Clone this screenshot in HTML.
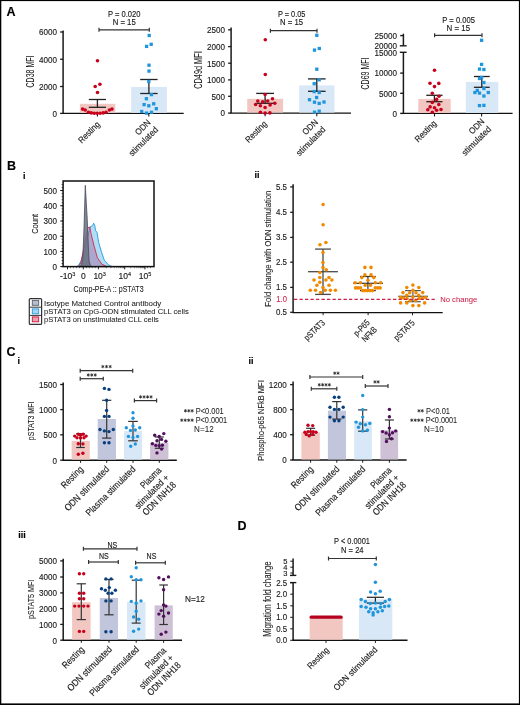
<!DOCTYPE html>
<html><head><meta charset="utf-8"><style>
html,body{margin:0;padding:0;background:#fff;}
body{width:520px;height:705px;overflow:hidden;}
svg{display:block;font-family:"Liberation Sans", sans-serif;will-change:transform;} text{stroke-width:0.14px;}
</style></head><body>
<svg width="520" height="705" viewBox="0 0 520 705">
<rect x="0" y="0" width="520" height="705" fill="#fff"/>
<text x="6.5" y="16" font-size="12.5" fill="#000" stroke="#000" font-weight="bold">A</text>
<text x="7" y="169.6" font-size="12.5" fill="#000" stroke="#000" font-weight="bold">B</text>
<text x="23" y="178.5" font-size="9" fill="#000" stroke="#000" font-weight="bold">i</text>
<text x="6.5" y="355.6" font-size="12.5" fill="#000" stroke="#000" font-weight="bold">C</text>
<text x="17.5" y="363.8" font-size="9" fill="#000" stroke="#000" font-weight="bold">i</text>
<text x="254.5" y="177.8" font-size="9" fill="#000" stroke="#000" font-weight="bold">ii</text>
<text x="248.5" y="363.6" font-size="9" fill="#000" stroke="#000" font-weight="bold">ii</text>
<text x="18.3" y="537.5" font-size="9" fill="#000" stroke="#000" font-weight="bold">iii</text>
<text x="237.5" y="529.7" font-size="12.5" fill="#000" stroke="#000" font-weight="bold">D</text>
<text transform="translate(33.7,71.5) rotate(-90)" x="0" y="0" font-size="10.8" fill="#1a1a1a" stroke="#1a1a1a" text-anchor="middle" textLength="32" lengthAdjust="spacingAndGlyphs" style="stroke-width:0.08px">CD38 MFI</text>
<line x1="63.1" y1="30.5" x2="63.1" y2="113.4" stroke="#1a1a1a" stroke-width="1.5" />
<line x1="60.1" y1="32" x2="63.1" y2="32" stroke="#1a1a1a" stroke-width="1.3" />
<text x="57" y="35.3" font-size="9.5" fill="#1a1a1a" stroke="#1a1a1a" text-anchor="end" textLength="18" lengthAdjust="spacingAndGlyphs">6000</text>
<line x1="60.1" y1="59.25" x2="63.1" y2="59.25" stroke="#1a1a1a" stroke-width="1.3" />
<text x="57" y="62.55" font-size="9.5" fill="#1a1a1a" stroke="#1a1a1a" text-anchor="end" textLength="18" lengthAdjust="spacingAndGlyphs">4000</text>
<line x1="60.1" y1="86.5" x2="63.1" y2="86.5" stroke="#1a1a1a" stroke-width="1.3" />
<text x="57" y="89.8" font-size="9.5" fill="#1a1a1a" stroke="#1a1a1a" text-anchor="end" textLength="18" lengthAdjust="spacingAndGlyphs">2000</text>
<line x1="60.1" y1="113.4" x2="63.1" y2="113.4" stroke="#1a1a1a" stroke-width="1.3" />
<text x="57" y="116.7" font-size="9.5" fill="#1a1a1a" stroke="#1a1a1a" text-anchor="end" textLength="4.5" lengthAdjust="spacingAndGlyphs">0</text>
<line x1="62.4" y1="113.4" x2="183.7" y2="113.4" stroke="#111" stroke-width="1.4" />
<line x1="97.4" y1="113.4" x2="97.4" y2="116.5" stroke="#1a1a1a" stroke-width="1.1" />
<line x1="148.8" y1="113.4" x2="148.8" y2="116.5" stroke="#1a1a1a" stroke-width="1.1" />
<rect x="79.9" y="103.8" width="35.4" height="9" fill="#f2c7c2"/>
<rect x="131.2" y="86.9" width="35.7" height="25.9" fill="#d8e8f7"/>
<line x1="97.4" y1="99.5" x2="97.4" y2="107.3" stroke="#222" stroke-width="1.3" />
<line x1="88.8" y1="99.5" x2="106" y2="99.5" stroke="#222" stroke-width="1.3" />
<line x1="88.8" y1="107.3" x2="106" y2="107.3" stroke="#222" stroke-width="1.3" />
<line x1="148.9" y1="79.5" x2="148.9" y2="93.5" stroke="#222" stroke-width="1.3" />
<line x1="140.2" y1="79.5" x2="157.6" y2="79.5" stroke="#222" stroke-width="1.3" />
<line x1="140.2" y1="93.5" x2="157.6" y2="93.5" stroke="#222" stroke-width="1.3" />
<circle cx="97.5" cy="60.8" r="1.8" fill="#c8001c"/>
<circle cx="95.2" cy="86.5" r="1.8" fill="#c8001c"/>
<circle cx="99.9" cy="84.3" r="1.8" fill="#c8001c"/>
<circle cx="97.5" cy="92.5" r="1.8" fill="#c8001c"/>
<circle cx="82.6" cy="109.1" r="1.8" fill="#c8001c"/>
<circle cx="85.2" cy="110" r="1.8" fill="#c8001c"/>
<circle cx="88.4" cy="112.3" r="1.8" fill="#c8001c"/>
<circle cx="91.3" cy="112.9" r="1.8" fill="#c8001c"/>
<circle cx="94.3" cy="113.2" r="1.8" fill="#c8001c"/>
<circle cx="97.2" cy="113.3" r="1.8" fill="#c8001c"/>
<circle cx="100.1" cy="113.2" r="1.8" fill="#c8001c"/>
<circle cx="103.1" cy="112.9" r="1.8" fill="#c8001c"/>
<circle cx="106" cy="112.3" r="1.8" fill="#c8001c"/>
<circle cx="109.4" cy="110" r="1.8" fill="#c8001c"/>
<circle cx="112" cy="109.1" r="1.8" fill="#c8001c"/>
<rect x="147.55" y="33.85" width="3.3" height="3.3" fill="#1f95dc"/>
<rect x="144.95" y="44.75" width="3.3" height="3.3" fill="#1f95dc"/>
<rect x="149.55" y="42.65" width="3.3" height="3.3" fill="#1f95dc"/>
<rect x="147.35" y="63.55" width="3.3" height="3.3" fill="#1f95dc"/>
<rect x="147.35" y="69.45" width="3.3" height="3.3" fill="#1f95dc"/>
<rect x="147.15" y="79.85" width="3.3" height="3.3" fill="#1f95dc"/>
<rect x="149.75" y="92.95" width="3.3" height="3.3" fill="#1f95dc"/>
<rect x="144.75" y="97.05" width="3.3" height="3.3" fill="#1f95dc"/>
<rect x="142.45" y="102.95" width="3.3" height="3.3" fill="#1f95dc"/>
<rect x="147.15" y="104.15" width="3.3" height="3.3" fill="#1f95dc"/>
<rect x="152.05" y="102.15" width="3.3" height="3.3" fill="#1f95dc"/>
<rect x="154.65" y="107.05" width="3.3" height="3.3" fill="#1f95dc"/>
<rect x="140.05" y="109.85" width="3.3" height="3.3" fill="#1f95dc"/>
<rect x="144.85" y="111.45" width="3.3" height="3.3" fill="#1f95dc"/>
<rect x="149.85" y="110.65" width="3.3" height="3.3" fill="#1f95dc"/>
<text x="124.2" y="16.8" font-size="9" fill="#1a1a1a" stroke="#1a1a1a" text-anchor="middle" textLength="32.5" lengthAdjust="spacingAndGlyphs">P = 0.020</text>
<text x="124.2" y="24.8" font-size="9" fill="#1a1a1a" stroke="#1a1a1a" text-anchor="middle" textLength="23" lengthAdjust="spacingAndGlyphs">N = 15</text>
<line x1="99" y1="29.8" x2="149.3" y2="29.8" stroke="#333" stroke-width="1.2" />
<line x1="99" y1="27.8" x2="99" y2="31.8" stroke="#333" stroke-width="1.2" />
<line x1="149.3" y1="27.8" x2="149.3" y2="31.8" stroke="#333" stroke-width="1.2" />
<text transform="translate(100.5,125) rotate(-45)" x="0" y="0" font-size="8.8" fill="#1a1a1a" stroke="#1a1a1a" text-anchor="end" textLength="26.5" lengthAdjust="spacingAndGlyphs">Resting</text>
<text transform="translate(151.2,123) rotate(-45)" x="0" y="0" font-size="8.8" fill="#1a1a1a" stroke="#1a1a1a" text-anchor="end" textLength="18" lengthAdjust="spacingAndGlyphs">ODN</text>
<text transform="translate(158.7,130.3) rotate(-45)" x="0" y="0" font-size="8.8" fill="#1a1a1a" stroke="#1a1a1a" text-anchor="end" textLength="37.5" lengthAdjust="spacingAndGlyphs">stimulated</text>
<text transform="translate(202.3,70) rotate(-90)" x="0" y="0" font-size="10.8" fill="#1a1a1a" stroke="#1a1a1a" text-anchor="middle" textLength="37.5" lengthAdjust="spacingAndGlyphs" style="stroke-width:0.08px">CD49d MFI</text>
<line x1="231.1" y1="27.5" x2="231.1" y2="113.1" stroke="#1a1a1a" stroke-width="1.5" />
<line x1="228.1" y1="29.8" x2="231.1" y2="29.8" stroke="#1a1a1a" stroke-width="1.3" />
<text x="224.9" y="33.1" font-size="9.5" fill="#1a1a1a" stroke="#1a1a1a" text-anchor="end" textLength="18" lengthAdjust="spacingAndGlyphs">2500</text>
<line x1="228.1" y1="46.6" x2="231.1" y2="46.6" stroke="#1a1a1a" stroke-width="1.3" />
<text x="224.9" y="49.9" font-size="9.5" fill="#1a1a1a" stroke="#1a1a1a" text-anchor="end" textLength="18" lengthAdjust="spacingAndGlyphs">2000</text>
<line x1="228.1" y1="63.2" x2="231.1" y2="63.2" stroke="#1a1a1a" stroke-width="1.3" />
<text x="224.9" y="66.5" font-size="9.5" fill="#1a1a1a" stroke="#1a1a1a" text-anchor="end" textLength="18" lengthAdjust="spacingAndGlyphs">1500</text>
<line x1="228.1" y1="79.9" x2="231.1" y2="79.9" stroke="#1a1a1a" stroke-width="1.3" />
<text x="224.9" y="83.2" font-size="9.5" fill="#1a1a1a" stroke="#1a1a1a" text-anchor="end" textLength="18" lengthAdjust="spacingAndGlyphs">1000</text>
<line x1="228.1" y1="96.3" x2="231.1" y2="96.3" stroke="#1a1a1a" stroke-width="1.3" />
<text x="224.9" y="99.6" font-size="9.5" fill="#1a1a1a" stroke="#1a1a1a" text-anchor="end" textLength="13.5" lengthAdjust="spacingAndGlyphs">500</text>
<line x1="228.1" y1="113.1" x2="231.1" y2="113.1" stroke="#1a1a1a" stroke-width="1.3" />
<text x="224.9" y="116.4" font-size="9.5" fill="#1a1a1a" stroke="#1a1a1a" text-anchor="end" textLength="4.5" lengthAdjust="spacingAndGlyphs">0</text>
<line x1="230.4" y1="113.1" x2="351" y2="113.1" stroke="#111" stroke-width="1.4" />
<line x1="265.1" y1="113.1" x2="265.1" y2="116.2" stroke="#1a1a1a" stroke-width="1.1" />
<line x1="316.8" y1="113.1" x2="316.8" y2="116.2" stroke="#1a1a1a" stroke-width="1.1" />
<rect x="247.2" y="98.8" width="35.9" height="13.8" fill="#f2c7c2"/>
<rect x="299.2" y="85.4" width="35.3" height="27.2" fill="#d8e8f7"/>
<line x1="265.1" y1="93.4" x2="265.1" y2="103.3" stroke="#222" stroke-width="1.3" />
<line x1="256.2" y1="93.4" x2="274" y2="93.4" stroke="#222" stroke-width="1.3" />
<line x1="256.2" y1="103.3" x2="274" y2="103.3" stroke="#222" stroke-width="1.3" />
<line x1="316.8" y1="78.9" x2="316.8" y2="91.3" stroke="#222" stroke-width="1.3" />
<line x1="308" y1="78.9" x2="325.6" y2="78.9" stroke="#222" stroke-width="1.3" />
<line x1="308" y1="91.3" x2="325.6" y2="91.3" stroke="#222" stroke-width="1.3" />
<circle cx="265.3" cy="39.7" r="1.8" fill="#c8001c"/>
<circle cx="265.3" cy="74.5" r="1.8" fill="#c8001c"/>
<circle cx="265.1" cy="94.5" r="1.8" fill="#c8001c"/>
<circle cx="257.8" cy="101" r="1.8" fill="#c8001c"/>
<circle cx="262.7" cy="101.9" r="1.8" fill="#c8001c"/>
<circle cx="267.7" cy="101" r="1.8" fill="#c8001c"/>
<circle cx="272.5" cy="98.8" r="1.8" fill="#c8001c"/>
<circle cx="255.6" cy="104.5" r="1.8" fill="#c8001c"/>
<circle cx="260.4" cy="105.8" r="1.8" fill="#c8001c"/>
<circle cx="270.1" cy="104.9" r="1.8" fill="#c8001c"/>
<circle cx="274.8" cy="103.3" r="1.8" fill="#c8001c"/>
<circle cx="265.1" cy="107.5" r="1.8" fill="#c8001c"/>
<circle cx="260.4" cy="112.2" r="1.8" fill="#c8001c"/>
<circle cx="265.1" cy="113.1" r="1.8" fill="#c8001c"/>
<circle cx="269.9" cy="112.9" r="1.8" fill="#c8001c"/>
<rect x="315.15" y="33.65" width="3.3" height="3.3" fill="#1f95dc"/>
<rect x="312.85" y="48.45" width="3.3" height="3.3" fill="#1f95dc"/>
<rect x="317.65" y="46.85" width="3.3" height="3.3" fill="#1f95dc"/>
<rect x="315.15" y="67.55" width="3.3" height="3.3" fill="#1f95dc"/>
<rect x="317.55" y="78.15" width="3.3" height="3.3" fill="#1f95dc"/>
<rect x="312.55" y="82.05" width="3.3" height="3.3" fill="#1f95dc"/>
<rect x="312.55" y="89.95" width="3.3" height="3.3" fill="#1f95dc"/>
<rect x="317.55" y="90.85" width="3.3" height="3.3" fill="#1f95dc"/>
<rect x="314.95" y="95.85" width="3.3" height="3.3" fill="#1f95dc"/>
<rect x="307.85" y="98.05" width="3.3" height="3.3" fill="#1f95dc"/>
<rect x="312.85" y="100.55" width="3.3" height="3.3" fill="#1f95dc"/>
<rect x="317.55" y="101.75" width="3.3" height="3.3" fill="#1f95dc"/>
<rect x="322.35" y="100.35" width="3.3" height="3.3" fill="#1f95dc"/>
<rect x="312.85" y="110.55" width="3.3" height="3.3" fill="#1f95dc"/>
<rect x="317.55" y="109.55" width="3.3" height="3.3" fill="#1f95dc"/>
<text x="291.7" y="17.1" font-size="9" fill="#1a1a1a" stroke="#1a1a1a" text-anchor="middle" textLength="27.5" lengthAdjust="spacingAndGlyphs">P = 0.05</text>
<text x="291.5" y="25" font-size="9" fill="#1a1a1a" stroke="#1a1a1a" text-anchor="middle" textLength="23" lengthAdjust="spacingAndGlyphs">N = 15</text>
<line x1="270.4" y1="30.7" x2="317" y2="30.7" stroke="#333" stroke-width="1.2" />
<line x1="270.4" y1="28.7" x2="270.4" y2="32.7" stroke="#333" stroke-width="1.2" />
<line x1="317" y1="28.7" x2="317" y2="32.7" stroke="#333" stroke-width="1.2" />
<text transform="translate(267.5,124.5) rotate(-45)" x="0" y="0" font-size="8.8" fill="#1a1a1a" stroke="#1a1a1a" text-anchor="end" textLength="26.5" lengthAdjust="spacingAndGlyphs">Resting</text>
<text transform="translate(318.6,122.8) rotate(-45)" x="0" y="0" font-size="8.8" fill="#1a1a1a" stroke="#1a1a1a" text-anchor="end" textLength="18" lengthAdjust="spacingAndGlyphs">ODN</text>
<text transform="translate(326.1,130.1) rotate(-45)" x="0" y="0" font-size="8.8" fill="#1a1a1a" stroke="#1a1a1a" text-anchor="end" textLength="37.5" lengthAdjust="spacingAndGlyphs">stimulated</text>
<text transform="translate(369,73.5) rotate(-90)" x="0" y="0" font-size="10.8" fill="#1a1a1a" stroke="#1a1a1a" text-anchor="middle" textLength="32" lengthAdjust="spacingAndGlyphs" style="stroke-width:0.08px">CD69 MFI</text>
<text x="396.9" y="38.9" font-size="9.5" fill="#1a1a1a" stroke="#1a1a1a" text-anchor="end" textLength="22.5" lengthAdjust="spacingAndGlyphs">25000</text>
<text x="396.9" y="48.8" font-size="9.5" fill="#1a1a1a" stroke="#1a1a1a" text-anchor="end" textLength="22.5" lengthAdjust="spacingAndGlyphs">20000</text>
<text x="396.9" y="55.8" font-size="9.5" fill="#1a1a1a" stroke="#1a1a1a" text-anchor="end" textLength="22.5" lengthAdjust="spacingAndGlyphs">15000</text>
<text x="396.9" y="76.4" font-size="9.5" fill="#1a1a1a" stroke="#1a1a1a" text-anchor="end" textLength="22.5" lengthAdjust="spacingAndGlyphs">10000</text>
<text x="396.9" y="96.6" font-size="9.5" fill="#1a1a1a" stroke="#1a1a1a" text-anchor="end" textLength="18" lengthAdjust="spacingAndGlyphs">5000</text>
<text x="396.9" y="116.8" font-size="9.5" fill="#1a1a1a" stroke="#1a1a1a" text-anchor="end" textLength="4.5" lengthAdjust="spacingAndGlyphs">0</text>
<line x1="403.4" y1="33.7" x2="403.4" y2="45.8" stroke="#1a1a1a" stroke-width="1.5" />
<line x1="400.2" y1="35.6" x2="403.4" y2="35.6" stroke="#1a1a1a" stroke-width="1.4" />
<line x1="399.8" y1="45.8" x2="406.6" y2="45.8" stroke="#1a1a1a" stroke-width="1.4" />
<line x1="403.4" y1="52.3" x2="403.4" y2="113.4" stroke="#1a1a1a" stroke-width="1.5" />
<line x1="399.8" y1="52.3" x2="406.6" y2="52.3" stroke="#1a1a1a" stroke-width="1.4" />
<line x1="400.2" y1="73.1" x2="403.4" y2="73.1" stroke="#1a1a1a" stroke-width="1.4" />
<line x1="400.2" y1="93.3" x2="403.4" y2="93.3" stroke="#1a1a1a" stroke-width="1.4" />
<line x1="400.2" y1="113.4" x2="403.4" y2="113.4" stroke="#1a1a1a" stroke-width="1.4" />
<line x1="402.7" y1="113.4" x2="512.6" y2="113.4" stroke="#111" stroke-width="1.4" />
<line x1="434.5" y1="113.4" x2="434.5" y2="116.5" stroke="#1a1a1a" stroke-width="1.1" />
<line x1="481.6" y1="113.4" x2="481.6" y2="116.5" stroke="#1a1a1a" stroke-width="1.1" />
<rect x="418.3" y="98.9" width="32.4" height="14" fill="#f2c7c2"/>
<rect x="465.8" y="81.9" width="32.5" height="31" fill="#d8e8f7"/>
<line x1="434.4" y1="95.3" x2="434.4" y2="101.7" stroke="#222" stroke-width="1.3" />
<line x1="426.3" y1="95.3" x2="442.5" y2="95.3" stroke="#222" stroke-width="1.3" />
<line x1="426.3" y1="101.7" x2="442.5" y2="101.7" stroke="#222" stroke-width="1.3" />
<line x1="481.8" y1="76.5" x2="481.8" y2="87.3" stroke="#222" stroke-width="1.3" />
<line x1="473.9" y1="76.5" x2="489.7" y2="76.5" stroke="#222" stroke-width="1.3" />
<line x1="473.9" y1="87.3" x2="489.7" y2="87.3" stroke="#222" stroke-width="1.3" />
<circle cx="434.5" cy="70.2" r="1.8" fill="#c8001c"/>
<circle cx="430" cy="83.2" r="1.8" fill="#c8001c"/>
<circle cx="438.8" cy="83.4" r="1.8" fill="#c8001c"/>
<circle cx="434.5" cy="86.6" r="1.8" fill="#c8001c"/>
<circle cx="432.3" cy="93.3" r="1.8" fill="#c8001c"/>
<circle cx="439" cy="96.3" r="1.8" fill="#c8001c"/>
<circle cx="436.6" cy="99.4" r="1.8" fill="#c8001c"/>
<circle cx="432.3" cy="102.4" r="1.8" fill="#c8001c"/>
<circle cx="438.8" cy="104.5" r="1.8" fill="#c8001c"/>
<circle cx="430.1" cy="106.9" r="1.8" fill="#c8001c"/>
<circle cx="434.5" cy="107.8" r="1.8" fill="#c8001c"/>
<circle cx="427.8" cy="109.7" r="1.8" fill="#c8001c"/>
<circle cx="436.6" cy="110.2" r="1.8" fill="#c8001c"/>
<circle cx="441" cy="109.5" r="1.8" fill="#c8001c"/>
<circle cx="432.3" cy="112.2" r="1.8" fill="#c8001c"/>
<rect x="479.95" y="38.65" width="3.3" height="3.3" fill="#1f95dc"/>
<rect x="479.95" y="62.75" width="3.3" height="3.3" fill="#1f95dc"/>
<rect x="477.85" y="67.45" width="3.3" height="3.3" fill="#1f95dc"/>
<rect x="482.25" y="67.85" width="3.3" height="3.3" fill="#1f95dc"/>
<rect x="479.95" y="75.85" width="3.3" height="3.3" fill="#1f95dc"/>
<rect x="477.85" y="76.85" width="3.3" height="3.3" fill="#1f95dc"/>
<rect x="482.25" y="80.85" width="3.3" height="3.3" fill="#1f95dc"/>
<rect x="482.25" y="86.85" width="3.3" height="3.3" fill="#1f95dc"/>
<rect x="475.65" y="88.75" width="3.3" height="3.3" fill="#1f95dc"/>
<rect x="473.25" y="90.85" width="3.3" height="3.3" fill="#1f95dc"/>
<rect x="477.85" y="91.45" width="3.3" height="3.3" fill="#1f95dc"/>
<rect x="486.65" y="90.85" width="3.3" height="3.3" fill="#1f95dc"/>
<rect x="482.25" y="94.35" width="3.3" height="3.3" fill="#1f95dc"/>
<rect x="477.85" y="103.95" width="3.3" height="3.3" fill="#1f95dc"/>
<rect x="482.25" y="103.75" width="3.3" height="3.3" fill="#1f95dc"/>
<text x="458.6" y="23" font-size="9" fill="#1a1a1a" stroke="#1a1a1a" text-anchor="middle" textLength="32.5" lengthAdjust="spacingAndGlyphs">P = 0.005</text>
<text x="458.3" y="30.7" font-size="9" fill="#1a1a1a" stroke="#1a1a1a" text-anchor="middle" textLength="23.5" lengthAdjust="spacingAndGlyphs">N = 15</text>
<line x1="434.6" y1="35.3" x2="482" y2="35.3" stroke="#333" stroke-width="1.2" />
<line x1="434.6" y1="33.3" x2="434.6" y2="37.3" stroke="#333" stroke-width="1.2" />
<line x1="482" y1="33.3" x2="482" y2="37.3" stroke="#333" stroke-width="1.2" />
<text transform="translate(437,124) rotate(-45)" x="0" y="0" font-size="8.8" fill="#1a1a1a" stroke="#1a1a1a" text-anchor="end" textLength="26.5" lengthAdjust="spacingAndGlyphs">Resting</text>
<text transform="translate(485,122) rotate(-45)" x="0" y="0" font-size="8.8" fill="#1a1a1a" stroke="#1a1a1a" text-anchor="end" textLength="18" lengthAdjust="spacingAndGlyphs">ODN</text>
<text transform="translate(491.7,129.7) rotate(-45)" x="0" y="0" font-size="8.8" fill="#1a1a1a" stroke="#1a1a1a" text-anchor="end" textLength="37.5" lengthAdjust="spacingAndGlyphs">stimulated</text>
<text transform="translate(38,223.8) rotate(-90)" x="0" y="0" font-size="9.6" fill="#1a1a1a" stroke="#1a1a1a" text-anchor="middle" textLength="20" lengthAdjust="spacingAndGlyphs" style="stroke-width:0.08px">Count</text>
<line x1="60.2" y1="190.5" x2="63.1" y2="190.5" stroke="#1a1a1a" stroke-width="1" />
<text x="57" y="193.8" font-size="9.5" fill="#1a1a1a" stroke="#1a1a1a" text-anchor="end" textLength="13.5" lengthAdjust="spacingAndGlyphs">500</text>
<line x1="60.2" y1="205.7" x2="63.1" y2="205.7" stroke="#1a1a1a" stroke-width="1" />
<text x="57" y="209" font-size="9.5" fill="#1a1a1a" stroke="#1a1a1a" text-anchor="end" textLength="13.5" lengthAdjust="spacingAndGlyphs">400</text>
<line x1="60.2" y1="221" x2="63.1" y2="221" stroke="#1a1a1a" stroke-width="1" />
<text x="57" y="224.3" font-size="9.5" fill="#1a1a1a" stroke="#1a1a1a" text-anchor="end" textLength="13.5" lengthAdjust="spacingAndGlyphs">300</text>
<line x1="60.2" y1="236.2" x2="63.1" y2="236.2" stroke="#1a1a1a" stroke-width="1" />
<text x="57" y="239.5" font-size="9.5" fill="#1a1a1a" stroke="#1a1a1a" text-anchor="end" textLength="13.5" lengthAdjust="spacingAndGlyphs">200</text>
<line x1="60.2" y1="251.4" x2="63.1" y2="251.4" stroke="#1a1a1a" stroke-width="1" />
<text x="57" y="254.7" font-size="9.5" fill="#1a1a1a" stroke="#1a1a1a" text-anchor="end" textLength="13.5" lengthAdjust="spacingAndGlyphs">100</text>
<line x1="60.2" y1="266.6" x2="63.1" y2="266.6" stroke="#1a1a1a" stroke-width="1" />
<text x="57" y="269.9" font-size="9.5" fill="#1a1a1a" stroke="#1a1a1a" text-anchor="end" textLength="4.5" lengthAdjust="spacingAndGlyphs">0</text>
<line x1="61.6" y1="266.6" x2="63.1" y2="266.6" stroke="#1a1a1a" stroke-width="0.7" />
<line x1="61.6" y1="263.56" x2="63.1" y2="263.56" stroke="#1a1a1a" stroke-width="0.7" />
<line x1="61.6" y1="260.52" x2="63.1" y2="260.52" stroke="#1a1a1a" stroke-width="0.7" />
<line x1="61.6" y1="257.48" x2="63.1" y2="257.48" stroke="#1a1a1a" stroke-width="0.7" />
<line x1="61.6" y1="254.44" x2="63.1" y2="254.44" stroke="#1a1a1a" stroke-width="0.7" />
<line x1="61.6" y1="251.4" x2="63.1" y2="251.4" stroke="#1a1a1a" stroke-width="0.7" />
<line x1="61.6" y1="248.36" x2="63.1" y2="248.36" stroke="#1a1a1a" stroke-width="0.7" />
<line x1="61.6" y1="245.32" x2="63.1" y2="245.32" stroke="#1a1a1a" stroke-width="0.7" />
<line x1="61.6" y1="242.28" x2="63.1" y2="242.28" stroke="#1a1a1a" stroke-width="0.7" />
<line x1="61.6" y1="239.24" x2="63.1" y2="239.24" stroke="#1a1a1a" stroke-width="0.7" />
<line x1="61.6" y1="236.2" x2="63.1" y2="236.2" stroke="#1a1a1a" stroke-width="0.7" />
<line x1="61.6" y1="233.16" x2="63.1" y2="233.16" stroke="#1a1a1a" stroke-width="0.7" />
<line x1="61.6" y1="230.12" x2="63.1" y2="230.12" stroke="#1a1a1a" stroke-width="0.7" />
<line x1="61.6" y1="227.08" x2="63.1" y2="227.08" stroke="#1a1a1a" stroke-width="0.7" />
<line x1="61.6" y1="224.04" x2="63.1" y2="224.04" stroke="#1a1a1a" stroke-width="0.7" />
<line x1="61.6" y1="221" x2="63.1" y2="221" stroke="#1a1a1a" stroke-width="0.7" />
<line x1="61.6" y1="217.96" x2="63.1" y2="217.96" stroke="#1a1a1a" stroke-width="0.7" />
<line x1="61.6" y1="214.92" x2="63.1" y2="214.92" stroke="#1a1a1a" stroke-width="0.7" />
<line x1="61.6" y1="211.88" x2="63.1" y2="211.88" stroke="#1a1a1a" stroke-width="0.7" />
<line x1="61.6" y1="208.84" x2="63.1" y2="208.84" stroke="#1a1a1a" stroke-width="0.7" />
<line x1="61.6" y1="205.8" x2="63.1" y2="205.8" stroke="#1a1a1a" stroke-width="0.7" />
<line x1="61.6" y1="202.76" x2="63.1" y2="202.76" stroke="#1a1a1a" stroke-width="0.7" />
<line x1="61.6" y1="199.72" x2="63.1" y2="199.72" stroke="#1a1a1a" stroke-width="0.7" />
<line x1="61.6" y1="196.68" x2="63.1" y2="196.68" stroke="#1a1a1a" stroke-width="0.7" />
<line x1="61.6" y1="193.64" x2="63.1" y2="193.64" stroke="#1a1a1a" stroke-width="0.7" />
<line x1="61.6" y1="190.6" x2="63.1" y2="190.6" stroke="#1a1a1a" stroke-width="0.7" />
<line x1="61.6" y1="187.56" x2="63.1" y2="187.56" stroke="#1a1a1a" stroke-width="0.7" />
<line x1="61.6" y1="184.52" x2="63.1" y2="184.52" stroke="#1a1a1a" stroke-width="0.7" />
<path d="M76.5,266.6 L78.3,265.7 L81,261 L84,251.4 L87,240 L89.1,231 L90.4,226.6 L92.7,225.7 L93.6,223.2 L94.9,225.9 L95.5,230.5 L97,232.3 L98.7,242.5 L101.3,251.4 L104.4,260.4 L108.3,264.8 L110.8,266 L112.5,266.6 Z" fill="#a9d9f4" fill-opacity="0.9" stroke="#1f9be0" stroke-width="0.9"/>
<path d="M78.5,266.6 L80.8,262.9 L83,252 L86,236 L87.9,227.8 L89.8,227 L91,233.6 L94.2,246.3 L97.4,257.8 L101.9,264.2 L105.7,266 L107.5,266.6 Z" fill="#a8669e" fill-opacity="0.45" stroke="#d02a48" stroke-width="0.9"/>
<path d="M80.3,266.6 L81.5,264.5 L82.8,259 L84,228 L85.3,185.3 L86.3,203 L87.2,218.3 L88.3,245 L89.1,261 L90.4,265.5 L91.8,266.6 Z" fill="#687080" fill-opacity="0.85" stroke="#454c5c" stroke-width="0.8"/>
<rect x="63.1" y="181" width="90.9" height="85.6" fill="none" stroke="#111" stroke-width="1.5"/>
<line x1="67.5" y1="266.6" x2="67.5" y2="269.3" stroke="#1a1a1a" stroke-width="1" />
<line x1="83.3" y1="266.6" x2="83.3" y2="269.3" stroke="#1a1a1a" stroke-width="1" />
<line x1="98.4" y1="266.6" x2="98.4" y2="269.3" stroke="#1a1a1a" stroke-width="1" />
<line x1="124.7" y1="266.6" x2="124.7" y2="269.3" stroke="#1a1a1a" stroke-width="1" />
<line x1="144.9" y1="266.6" x2="144.9" y2="269.3" stroke="#1a1a1a" stroke-width="1" />
<line x1="106.32" y1="266.6" x2="106.32" y2="268.2" stroke="#1a1a1a" stroke-width="0.6" />
<line x1="110.95" y1="266.6" x2="110.95" y2="268.2" stroke="#1a1a1a" stroke-width="0.6" />
<line x1="114.23" y1="266.6" x2="114.23" y2="268.2" stroke="#1a1a1a" stroke-width="0.6" />
<line x1="116.78" y1="266.6" x2="116.78" y2="268.2" stroke="#1a1a1a" stroke-width="0.6" />
<line x1="118.87" y1="266.6" x2="118.87" y2="268.2" stroke="#1a1a1a" stroke-width="0.6" />
<line x1="120.63" y1="266.6" x2="120.63" y2="268.2" stroke="#1a1a1a" stroke-width="0.6" />
<line x1="122.15" y1="266.6" x2="122.15" y2="268.2" stroke="#1a1a1a" stroke-width="0.6" />
<line x1="123.5" y1="266.6" x2="123.5" y2="268.2" stroke="#1a1a1a" stroke-width="0.6" />
<line x1="130.78" y1="266.6" x2="130.78" y2="268.2" stroke="#1a1a1a" stroke-width="0.6" />
<line x1="134.34" y1="266.6" x2="134.34" y2="268.2" stroke="#1a1a1a" stroke-width="0.6" />
<line x1="136.86" y1="266.6" x2="136.86" y2="268.2" stroke="#1a1a1a" stroke-width="0.6" />
<line x1="138.82" y1="266.6" x2="138.82" y2="268.2" stroke="#1a1a1a" stroke-width="0.6" />
<line x1="140.42" y1="266.6" x2="140.42" y2="268.2" stroke="#1a1a1a" stroke-width="0.6" />
<line x1="141.77" y1="266.6" x2="141.77" y2="268.2" stroke="#1a1a1a" stroke-width="0.6" />
<line x1="142.94" y1="266.6" x2="142.94" y2="268.2" stroke="#1a1a1a" stroke-width="0.6" />
<line x1="143.98" y1="266.6" x2="143.98" y2="268.2" stroke="#1a1a1a" stroke-width="0.6" />
<line x1="70.5" y1="266.6" x2="70.5" y2="268.2" stroke="#1a1a1a" stroke-width="0.6" />
<line x1="73.5" y1="266.6" x2="73.5" y2="268.2" stroke="#1a1a1a" stroke-width="0.6" />
<line x1="76.5" y1="266.6" x2="76.5" y2="268.2" stroke="#1a1a1a" stroke-width="0.6" />
<line x1="79.5" y1="266.6" x2="79.5" y2="268.2" stroke="#1a1a1a" stroke-width="0.6" />
<line x1="86.3" y1="266.6" x2="86.3" y2="268.2" stroke="#1a1a1a" stroke-width="0.6" />
<line x1="89.3" y1="266.6" x2="89.3" y2="268.2" stroke="#1a1a1a" stroke-width="0.6" />
<line x1="92.3" y1="266.6" x2="92.3" y2="268.2" stroke="#1a1a1a" stroke-width="0.6" />
<line x1="95.3" y1="266.6" x2="95.3" y2="268.2" stroke="#1a1a1a" stroke-width="0.6" />
<line x1="147.5" y1="266.6" x2="147.5" y2="268.2" stroke="#1a1a1a" stroke-width="0.6" />
<line x1="150.5" y1="266.6" x2="150.5" y2="268.2" stroke="#1a1a1a" stroke-width="0.6" />
<text x="60" y="279.4" font-size="8.5" fill="#1a1a1a" stroke="#1a1a1a">-10<tspan font-size="5.5" dy="-3">3</tspan></text>
<text x="83.3" y="279.4" font-size="8.5" fill="#1a1a1a" stroke="#1a1a1a" text-anchor="middle">0</text>
<text x="93.4" y="279.4" font-size="8.5" fill="#1a1a1a" stroke="#1a1a1a">10<tspan font-size="5.5" dy="-3">3</tspan></text>
<text x="118.6" y="279.4" font-size="8.5" fill="#1a1a1a" stroke="#1a1a1a">10<tspan font-size="5.5" dy="-3">4</tspan></text>
<text x="138.8" y="279.4" font-size="8.5" fill="#1a1a1a" stroke="#1a1a1a">10<tspan font-size="5.5" dy="-3">5</tspan></text>
<text x="73.6" y="292" font-size="9.6" fill="#1a1a1a" stroke="#1a1a1a" textLength="70" lengthAdjust="spacingAndGlyphs" style="stroke-width:0.08px">Comp-PE-A :: pSTAT3</text>
<rect x="29.3" y="298.6" width="12.3" height="25.8" rx="1" fill="#fff" stroke="#333" stroke-width="1.2"/>
<line x1="29.3" y1="307.2" x2="41.6" y2="307.2" stroke="#333" stroke-width="1" />
<line x1="29.3" y1="315.4" x2="41.6" y2="315.4" stroke="#333" stroke-width="1" />
<rect x="32.3" y="300.4" width="6.4" height="4.9" fill="#b9bdc9" stroke="#596173" stroke-width="0.9"/>
<rect x="32.3" y="308.9" width="6.4" height="4.9" fill="#a9d5f1" stroke="#1f9be0" stroke-width="0.9"/>
<rect x="32.3" y="316.9" width="6.4" height="4.9" fill="#e7a3b1" stroke="#d0103a" stroke-width="0.9"/>
<text x="44" y="305.6" font-size="7.7" fill="#1a1a1a" stroke="#1a1a1a" textLength="117.2" lengthAdjust="spacingAndGlyphs" style="stroke-width:0.05px">Isotype Matched Control antibody</text>
<text x="44" y="314" font-size="7.7" fill="#1a1a1a" stroke="#1a1a1a" textLength="144.8" lengthAdjust="spacingAndGlyphs" style="stroke-width:0.05px">pSTAT3 on CpG-ODN stimulated CLL cells</text>
<text x="44" y="322.4" font-size="7.7" fill="#1a1a1a" stroke="#1a1a1a" textLength="114.9" lengthAdjust="spacingAndGlyphs" style="stroke-width:0.05px">pSTAT3 on unstimulated CLL cells</text>
<text transform="translate(271,248.7) rotate(-90)" x="0" y="0" font-size="9.8" fill="#1a1a1a" stroke="#1a1a1a" text-anchor="middle" textLength="116" lengthAdjust="spacingAndGlyphs" style="stroke-width:0.08px">Fold change with ODN stimulation</text>
<line x1="293.1" y1="184.3" x2="293.1" y2="312.6" stroke="#1a1a1a" stroke-width="1.5" />
<line x1="290.2" y1="186.9" x2="293.1" y2="186.9" stroke="#1a1a1a" stroke-width="1.3" />
<text x="286.9" y="189.8" font-size="8.5" fill="#1a1a1a" stroke="#1a1a1a" text-anchor="end" textLength="11" lengthAdjust="spacingAndGlyphs">5.5</text>
<line x1="290.2" y1="212.3" x2="293.1" y2="212.3" stroke="#1a1a1a" stroke-width="1.3" />
<text x="286.9" y="215.2" font-size="8.5" fill="#1a1a1a" stroke="#1a1a1a" text-anchor="end" textLength="11" lengthAdjust="spacingAndGlyphs">4.5</text>
<line x1="290.2" y1="237.4" x2="293.1" y2="237.4" stroke="#1a1a1a" stroke-width="1.3" />
<text x="286.9" y="240.3" font-size="8.5" fill="#1a1a1a" stroke="#1a1a1a" text-anchor="end" textLength="11" lengthAdjust="spacingAndGlyphs">3.5</text>
<line x1="290.2" y1="262.2" x2="293.1" y2="262.2" stroke="#1a1a1a" stroke-width="1.3" />
<text x="286.9" y="265.1" font-size="8.5" fill="#1a1a1a" stroke="#1a1a1a" text-anchor="end" textLength="11" lengthAdjust="spacingAndGlyphs">2.5</text>
<line x1="290.2" y1="287.4" x2="293.1" y2="287.4" stroke="#1a1a1a" stroke-width="1.3" />
<text x="286.9" y="290.3" font-size="8.5" fill="#1a1a1a" stroke="#1a1a1a" text-anchor="end" textLength="11" lengthAdjust="spacingAndGlyphs">1.5</text>
<line x1="290.2" y1="312.3" x2="293.1" y2="312.3" stroke="#1a1a1a" stroke-width="1.3" />
<text x="286.9" y="315.2" font-size="8.5" fill="#1a1a1a" stroke="#1a1a1a" text-anchor="end" textLength="11" lengthAdjust="spacingAndGlyphs">0.5</text>
<text x="286.9" y="302.3" font-size="8.5" fill="#d4274f" stroke="#d4274f" text-anchor="end" textLength="10.6" lengthAdjust="spacingAndGlyphs">1.0</text>
<line x1="292.4" y1="312.6" x2="442.7" y2="312.6" stroke="#111" stroke-width="1.4" />
<line x1="323.1" y1="312.5" x2="323.1" y2="315.2" stroke="#1a1a1a" stroke-width="1" />
<line x1="368.1" y1="312.5" x2="368.1" y2="315.2" stroke="#1a1a1a" stroke-width="1" />
<line x1="412.5" y1="312.5" x2="412.5" y2="315.2" stroke="#1a1a1a" stroke-width="1" />
<text x="440.2" y="301.9" font-size="8" fill="#cc1f48" stroke="#cc1f48" textLength="37" lengthAdjust="spacingAndGlyphs" style="stroke-width:0.06px">No change</text>
<line x1="323" y1="249.1" x2="323" y2="294.4" stroke="#4a4a4a" stroke-width="1.3" />
<line x1="315.1" y1="249.1" x2="330.9" y2="249.1" stroke="#4a4a4a" stroke-width="1.3" />
<line x1="315.1" y1="294.4" x2="330.9" y2="294.4" stroke="#4a4a4a" stroke-width="1.3" />
<line x1="308" y1="271.7" x2="337.9" y2="271.7" stroke="#4a4a4a" stroke-width="1.3" />
<line x1="367.9" y1="276.5" x2="367.9" y2="290.6" stroke="#333" stroke-width="1.2" />
<line x1="360" y1="276.5" x2="375.8" y2="276.5" stroke="#333" stroke-width="1.2" />
<line x1="360" y1="290.6" x2="375.8" y2="290.6" stroke="#333" stroke-width="1.2" />
<line x1="353.2" y1="283.3" x2="383" y2="283.3" stroke="#333" stroke-width="1.2" />
<line x1="412.9" y1="290.6" x2="412.9" y2="301.7" stroke="#555" stroke-width="1.2" />
<line x1="405" y1="290.6" x2="420.8" y2="290.6" stroke="#555" stroke-width="1.2" />
<line x1="405" y1="301.7" x2="420.8" y2="301.7" stroke="#555" stroke-width="1.2" />
<line x1="398.2" y1="296.3" x2="428" y2="296.3" stroke="#555" stroke-width="1.2" />
<circle cx="323.1" cy="204.5" r="1.8" fill="#f08a00"/>
<circle cx="323.1" cy="224.7" r="1.8" fill="#f08a00"/>
<circle cx="320" cy="244.8" r="1.8" fill="#f08a00"/>
<circle cx="325.9" cy="242.5" r="1.8" fill="#f08a00"/>
<circle cx="323" cy="252.5" r="1.8" fill="#f08a00"/>
<circle cx="323" cy="262.5" r="1.8" fill="#f08a00"/>
<circle cx="323" cy="267.5" r="1.8" fill="#f08a00"/>
<circle cx="326.2" cy="269.8" r="1.8" fill="#f08a00"/>
<circle cx="319.8" cy="272.5" r="1.8" fill="#f08a00"/>
<circle cx="319.8" cy="277.5" r="1.8" fill="#f08a00"/>
<circle cx="314" cy="280" r="1.8" fill="#f08a00"/>
<circle cx="329" cy="277.5" r="1.8" fill="#f08a00"/>
<circle cx="325.9" cy="280" r="1.8" fill="#f08a00"/>
<circle cx="331.9" cy="280" r="1.8" fill="#f08a00"/>
<circle cx="319.8" cy="282.3" r="1.8" fill="#f08a00"/>
<circle cx="316.9" cy="285.2" r="1.8" fill="#f08a00"/>
<circle cx="329" cy="285.2" r="1.8" fill="#f08a00"/>
<circle cx="323" cy="287.5" r="1.8" fill="#f08a00"/>
<circle cx="310.3" cy="290.2" r="1.8" fill="#f08a00"/>
<circle cx="315.5" cy="290.2" r="1.8" fill="#f08a00"/>
<circle cx="325.2" cy="290.2" r="1.8" fill="#f08a00"/>
<circle cx="330.4" cy="290.2" r="1.8" fill="#f08a00"/>
<circle cx="335.4" cy="290.2" r="1.8" fill="#f08a00"/>
<circle cx="320.6" cy="292.5" r="1.8" fill="#f08a00"/>
<circle cx="364.9" cy="267.4" r="1.8" fill="#f08a00"/>
<circle cx="371" cy="267.4" r="1.8" fill="#f08a00"/>
<circle cx="364.9" cy="274.9" r="1.8" fill="#f08a00"/>
<circle cx="371" cy="274.9" r="1.8" fill="#f08a00"/>
<circle cx="361.8" cy="277.6" r="1.8" fill="#f08a00"/>
<circle cx="373.8" cy="277.6" r="1.8" fill="#f08a00"/>
<circle cx="367.9" cy="280.2" r="1.8" fill="#f08a00"/>
<circle cx="355.1" cy="282.8" r="1.8" fill="#f08a00"/>
<circle cx="360.4" cy="282.8" r="1.8" fill="#f08a00"/>
<circle cx="375.3" cy="282.8" r="1.8" fill="#f08a00"/>
<circle cx="380.6" cy="282.8" r="1.8" fill="#f08a00"/>
<circle cx="365.2" cy="285.2" r="1.8" fill="#f08a00"/>
<circle cx="370.5" cy="285.2" r="1.8" fill="#f08a00"/>
<circle cx="355.6" cy="287.9" r="1.8" fill="#f08a00"/>
<circle cx="358" cy="287.9" r="1.8" fill="#f08a00"/>
<circle cx="360.4" cy="287.9" r="1.8" fill="#f08a00"/>
<circle cx="375.3" cy="287.9" r="1.8" fill="#f08a00"/>
<circle cx="377.7" cy="287.9" r="1.8" fill="#f08a00"/>
<circle cx="380.1" cy="287.9" r="1.8" fill="#f08a00"/>
<circle cx="362.8" cy="290.6" r="1.8" fill="#f08a00"/>
<circle cx="365.2" cy="290.6" r="1.8" fill="#f08a00"/>
<circle cx="367.6" cy="290.6" r="1.8" fill="#f08a00"/>
<circle cx="370" cy="290.6" r="1.8" fill="#f08a00"/>
<circle cx="372.4" cy="290.6" r="1.8" fill="#f08a00"/>
<circle cx="412.9" cy="285.1" r="1.8" fill="#f08a00"/>
<circle cx="406.8" cy="287.5" r="1.8" fill="#f08a00"/>
<circle cx="418.8" cy="287.5" r="1.8" fill="#f08a00"/>
<circle cx="412.9" cy="290.2" r="1.8" fill="#f08a00"/>
<circle cx="403" cy="292.6" r="1.8" fill="#f08a00"/>
<circle cx="422.7" cy="292.6" r="1.8" fill="#f08a00"/>
<circle cx="409.7" cy="292.8" r="1.8" fill="#f08a00"/>
<circle cx="416" cy="292.8" r="1.8" fill="#f08a00"/>
<circle cx="406.8" cy="295.2" r="1.8" fill="#f08a00"/>
<circle cx="418.8" cy="295.2" r="1.8" fill="#f08a00"/>
<circle cx="400.6" cy="297.6" r="1.8" fill="#f08a00"/>
<circle cx="425.6" cy="297.6" r="1.8" fill="#f08a00"/>
<circle cx="403.5" cy="298" r="1.8" fill="#f08a00"/>
<circle cx="422.2" cy="298" r="1.8" fill="#f08a00"/>
<circle cx="412.9" cy="297.1" r="1.8" fill="#f08a00"/>
<circle cx="410.2" cy="300.5" r="1.8" fill="#f08a00"/>
<circle cx="415.5" cy="300.5" r="1.8" fill="#f08a00"/>
<circle cx="400.6" cy="302.9" r="1.8" fill="#f08a00"/>
<circle cx="406.8" cy="302.9" r="1.8" fill="#f08a00"/>
<circle cx="424.6" cy="302.9" r="1.8" fill="#f08a00"/>
<circle cx="412.9" cy="305.6" r="1.8" fill="#f08a00"/>
<circle cx="418.8" cy="305.6" r="1.8" fill="#f08a00"/>
<circle cx="407" cy="298.5" r="1.8" fill="#f08a00"/>
<circle cx="419" cy="298.5" r="1.8" fill="#f08a00"/>
<line x1="294" y1="299.3" x2="437" y2="299.3" stroke="#cc1f48" stroke-width="1.2" stroke-dasharray="3.3,2.2"/>
<text transform="translate(325.6,323.3) rotate(-45)" x="0" y="0" font-size="8.8" fill="#1a1a1a" stroke="#1a1a1a" text-anchor="end" textLength="25.5" lengthAdjust="spacingAndGlyphs">pSTAT3</text>
<text transform="translate(370.4,323.3) rotate(-45)" x="0" y="0" font-size="8.8" fill="#1a1a1a" stroke="#1a1a1a" text-anchor="end" textLength="19" lengthAdjust="spacingAndGlyphs">p-P65</text>
<text transform="translate(377.6,330.2) rotate(-45)" x="0" y="0" font-size="8.8" fill="#1a1a1a" stroke="#1a1a1a" text-anchor="end" textLength="17.5" lengthAdjust="spacingAndGlyphs">NFkB</text>
<text transform="translate(415.4,323.3) rotate(-45)" x="0" y="0" font-size="8.8" fill="#1a1a1a" stroke="#1a1a1a" text-anchor="end" textLength="25.5" lengthAdjust="spacingAndGlyphs">pSTAT5</text>
<text transform="translate(33.8,420.9) rotate(-90)" x="0" y="0" font-size="9.8" fill="#1a1a1a" stroke="#1a1a1a" text-anchor="middle" textLength="38.5" lengthAdjust="spacingAndGlyphs" style="stroke-width:0.08px">pSTAT3 MFI</text>
<line x1="63.2" y1="382.5" x2="63.2" y2="460.2" stroke="#1a1a1a" stroke-width="1.5" />
<line x1="60.2" y1="384.5" x2="63.2" y2="384.5" stroke="#1a1a1a" stroke-width="1.3" />
<text x="57" y="387.8" font-size="9.5" fill="#1a1a1a" stroke="#1a1a1a" text-anchor="end" textLength="18" lengthAdjust="spacingAndGlyphs">1500</text>
<line x1="60.2" y1="409.6" x2="63.2" y2="409.6" stroke="#1a1a1a" stroke-width="1.3" />
<text x="57" y="412.9" font-size="9.5" fill="#1a1a1a" stroke="#1a1a1a" text-anchor="end" textLength="18" lengthAdjust="spacingAndGlyphs">1000</text>
<line x1="60.2" y1="434.8" x2="63.2" y2="434.8" stroke="#1a1a1a" stroke-width="1.3" />
<text x="57" y="438.1" font-size="9.5" fill="#1a1a1a" stroke="#1a1a1a" text-anchor="end" textLength="13.5" lengthAdjust="spacingAndGlyphs">500</text>
<line x1="60.2" y1="460.2" x2="63.2" y2="460.2" stroke="#1a1a1a" stroke-width="1.3" />
<text x="57" y="463.5" font-size="9.5" fill="#1a1a1a" stroke="#1a1a1a" text-anchor="end" textLength="4.5" lengthAdjust="spacingAndGlyphs">0</text>
<line x1="62.5" y1="460.2" x2="176.8" y2="460.2" stroke="#111" stroke-width="1.4" />
<line x1="80.6" y1="460.1" x2="80.6" y2="462.8" stroke="#1a1a1a" stroke-width="1" />
<line x1="106.7" y1="460.1" x2="106.7" y2="462.8" stroke="#1a1a1a" stroke-width="1" />
<line x1="133" y1="460.1" x2="133" y2="462.8" stroke="#1a1a1a" stroke-width="1" />
<line x1="159.3" y1="460.1" x2="159.3" y2="462.8" stroke="#1a1a1a" stroke-width="1" />
<rect x="71.6" y="440.9" width="18.2" height="18.7" fill="#f2c7c2"/>
<rect x="97.7" y="419" width="18.3" height="40.6" fill="#c1c6dc"/>
<rect x="124" y="431.1" width="18.1" height="28.5" fill="#d8e8f7"/>
<rect x="150.1" y="442.8" width="18.3" height="16.8" fill="#cec1d5"/>
<line x1="80.5" y1="433.7" x2="80.5" y2="447.5" stroke="#333" stroke-width="1.2" />
<line x1="76.2" y1="433.7" x2="84.8" y2="433.7" stroke="#333" stroke-width="1.2" />
<line x1="76.2" y1="447.5" x2="84.8" y2="447.5" stroke="#333" stroke-width="1.2" />
<line x1="106.7" y1="400.3" x2="106.7" y2="438.1" stroke="#333" stroke-width="1.2" />
<line x1="102.1" y1="400.3" x2="111.3" y2="400.3" stroke="#333" stroke-width="1.2" />
<line x1="102.1" y1="438.1" x2="111.3" y2="438.1" stroke="#333" stroke-width="1.2" />
<line x1="133" y1="421.4" x2="133" y2="440.8" stroke="#333" stroke-width="1.2" />
<line x1="128.2" y1="421.4" x2="137.8" y2="421.4" stroke="#333" stroke-width="1.2" />
<line x1="128.2" y1="440.8" x2="137.8" y2="440.8" stroke="#333" stroke-width="1.2" />
<line x1="159.3" y1="437" x2="159.3" y2="448.3" stroke="#333" stroke-width="1.2" />
<line x1="154.8" y1="437" x2="163.8" y2="437" stroke="#333" stroke-width="1.2" />
<line x1="154.8" y1="448.3" x2="163.8" y2="448.3" stroke="#333" stroke-width="1.2" />
<circle cx="74.7" cy="436.1" r="1.7" fill="#c8001c"/>
<circle cx="78.3" cy="434.3" r="1.7" fill="#c8001c"/>
<circle cx="83.1" cy="434.3" r="1.7" fill="#c8001c"/>
<circle cx="86.1" cy="436.1" r="1.7" fill="#c8001c"/>
<circle cx="77" cy="437.7" r="1.7" fill="#c8001c"/>
<circle cx="80.5" cy="438" r="1.7" fill="#c8001c"/>
<circle cx="84" cy="437.7" r="1.7" fill="#c8001c"/>
<circle cx="78.3" cy="443.7" r="1.7" fill="#c8001c"/>
<circle cx="82.9" cy="443.9" r="1.7" fill="#c8001c"/>
<circle cx="78.3" cy="454.2" r="1.7" fill="#c8001c"/>
<circle cx="82.9" cy="453.2" r="1.7" fill="#c8001c"/>
<circle cx="80.5" cy="435" r="1.7" fill="#c8001c"/>
<circle cx="104.4" cy="388.4" r="1.7" fill="#083f7e"/>
<circle cx="109" cy="389.4" r="1.7" fill="#083f7e"/>
<circle cx="106.6" cy="400.3" r="1.7" fill="#083f7e"/>
<circle cx="106.6" cy="410.5" r="1.7" fill="#083f7e"/>
<circle cx="104.4" cy="416.4" r="1.7" fill="#083f7e"/>
<circle cx="109" cy="416.4" r="1.7" fill="#083f7e"/>
<circle cx="100" cy="429.5" r="1.7" fill="#083f7e"/>
<circle cx="104.4" cy="430.9" r="1.7" fill="#083f7e"/>
<circle cx="109" cy="431.6" r="1.7" fill="#083f7e"/>
<circle cx="113.3" cy="429.5" r="1.7" fill="#083f7e"/>
<circle cx="104.4" cy="442.7" r="1.7" fill="#083f7e"/>
<circle cx="109" cy="442.7" r="1.7" fill="#083f7e"/>
<circle cx="133" cy="412.8" r="1.7" fill="#1f95dc"/>
<circle cx="133" cy="418.3" r="1.7" fill="#1f95dc"/>
<circle cx="126.3" cy="427.7" r="1.7" fill="#1f95dc"/>
<circle cx="139.7" cy="427.7" r="1.7" fill="#1f95dc"/>
<circle cx="133" cy="426" r="1.7" fill="#1f95dc"/>
<circle cx="130.5" cy="430.4" r="1.7" fill="#1f95dc"/>
<circle cx="135.3" cy="430" r="1.7" fill="#1f95dc"/>
<circle cx="128.4" cy="436.4" r="1.7" fill="#1f95dc"/>
<circle cx="133" cy="437.5" r="1.7" fill="#1f95dc"/>
<circle cx="137.6" cy="436.4" r="1.7" fill="#1f95dc"/>
<circle cx="130.7" cy="446.2" r="1.7" fill="#1f95dc"/>
<circle cx="135.3" cy="444" r="1.7" fill="#1f95dc"/>
<circle cx="154.7" cy="435.3" r="1.7" fill="#520f5e"/>
<circle cx="159.2" cy="436.4" r="1.7" fill="#520f5e"/>
<circle cx="163.8" cy="433.6" r="1.7" fill="#520f5e"/>
<circle cx="161.5" cy="439.4" r="1.7" fill="#520f5e"/>
<circle cx="157" cy="440.8" r="1.7" fill="#520f5e"/>
<circle cx="165.9" cy="441.3" r="1.7" fill="#520f5e"/>
<circle cx="152.4" cy="443.7" r="1.7" fill="#520f5e"/>
<circle cx="155.8" cy="445.4" r="1.7" fill="#520f5e"/>
<circle cx="159.2" cy="445.7" r="1.7" fill="#520f5e"/>
<circle cx="162.4" cy="445.2" r="1.7" fill="#520f5e"/>
<circle cx="161.6" cy="449.1" r="1.7" fill="#520f5e"/>
<circle cx="157" cy="452.9" r="1.7" fill="#520f5e"/>
<line x1="80.2" y1="370.7" x2="132.7" y2="370.7" stroke="#333" stroke-width="1.2" />
<line x1="80.2" y1="368.7" x2="80.2" y2="372.7" stroke="#333" stroke-width="1.2" />
<line x1="132.7" y1="368.7" x2="132.7" y2="372.7" stroke="#333" stroke-width="1.2" />
<line x1="80.2" y1="378.7" x2="103.3" y2="378.7" stroke="#333" stroke-width="1.2" />
<line x1="80.2" y1="376.7" x2="80.2" y2="380.7" stroke="#333" stroke-width="1.2" />
<line x1="103.3" y1="376.7" x2="103.3" y2="380.7" stroke="#333" stroke-width="1.2" />
<line x1="134.4" y1="400.6" x2="156.6" y2="400.6" stroke="#333" stroke-width="1.2" />
<line x1="134.4" y1="398.6" x2="134.4" y2="402.6" stroke="#333" stroke-width="1.2" />
<line x1="156.6" y1="398.6" x2="156.6" y2="402.6" stroke="#333" stroke-width="1.2" />
<path d="M102.85,365.35L102.85,367.85M101.77,365.98L103.93,367.23M101.77,367.23L103.93,365.98" stroke="#222" stroke-width="0.8" stroke-linecap="round"/>
<path d="M106.5,365.35L106.5,367.85M105.42,365.98L107.58,367.23M105.42,367.23L107.58,365.98" stroke="#222" stroke-width="0.8" stroke-linecap="round"/>
<path d="M110.15,365.35L110.15,367.85M109.07,365.98L111.23,367.23M109.07,367.23L111.23,365.98" stroke="#222" stroke-width="0.8" stroke-linecap="round"/>
<path d="M88.25,373.75L88.25,376.25M87.17,374.38L89.33,375.62M87.17,375.62L89.33,374.38" stroke="#222" stroke-width="0.8" stroke-linecap="round"/>
<path d="M91.75,373.75L91.75,376.25M90.67,374.38L92.83,375.62M90.67,375.62L92.83,374.38" stroke="#222" stroke-width="0.8" stroke-linecap="round"/>
<path d="M95.25,373.75L95.25,376.25M94.17,374.38L96.33,375.62M94.17,375.62L96.33,374.38" stroke="#222" stroke-width="0.8" stroke-linecap="round"/>
<path d="M140.55,395.65L140.55,398.15M139.47,396.27L141.63,397.52M139.47,397.52L141.63,396.27" stroke="#222" stroke-width="0.8" stroke-linecap="round"/>
<path d="M144.05,395.65L144.05,398.15M142.97,396.27L145.13,397.52M142.97,397.52L145.13,396.27" stroke="#222" stroke-width="0.8" stroke-linecap="round"/>
<path d="M147.55,395.65L147.55,398.15M146.47,396.27L148.63,397.52M146.47,397.52L148.63,396.27" stroke="#222" stroke-width="0.8" stroke-linecap="round"/>
<path d="M151.05,395.65L151.05,398.15M149.97,396.27L152.13,397.52M149.97,397.52L152.13,396.27" stroke="#222" stroke-width="0.8" stroke-linecap="round"/>
<path d="M185.45,409.55L185.45,412.05M184.37,410.18L186.53,411.43M184.37,411.43L186.53,410.18" stroke="#222" stroke-width="0.8" stroke-linecap="round"/>
<path d="M188.8,409.55L188.8,412.05M187.72,410.18L189.88,411.43M187.72,411.43L189.88,410.18" stroke="#222" stroke-width="0.8" stroke-linecap="round"/>
<path d="M192.15,409.55L192.15,412.05M191.07,410.18L193.23,411.43M191.07,411.43L193.23,410.18" stroke="#222" stroke-width="0.8" stroke-linecap="round"/>
<text x="195.7" y="414.2" font-size="8.4" fill="#222" stroke="#222" textLength="28" lengthAdjust="spacingAndGlyphs" style="stroke-width:0.05px">P&lt;0.001</text>
<path d="M181.75,418.95L181.75,421.45M180.67,419.57L182.83,420.82M180.67,420.82L182.83,419.57" stroke="#222" stroke-width="0.8" stroke-linecap="round"/>
<path d="M185.22,418.95L185.22,421.45M184.13,419.57L186.3,420.82M184.13,420.82L186.3,419.57" stroke="#222" stroke-width="0.8" stroke-linecap="round"/>
<path d="M188.68,418.95L188.68,421.45M187.6,419.57L189.77,420.82M187.6,420.82L189.77,419.57" stroke="#222" stroke-width="0.8" stroke-linecap="round"/>
<path d="M192.15,418.95L192.15,421.45M191.07,419.57L193.23,420.82M191.07,420.82L193.23,419.57" stroke="#222" stroke-width="0.8" stroke-linecap="round"/>
<text x="195.7" y="423.4" font-size="8.4" fill="#222" stroke="#222" textLength="31.5" lengthAdjust="spacingAndGlyphs" style="stroke-width:0.05px">P&lt;0.0001</text>
<text x="194.1" y="432.3" font-size="8.4" fill="#222" stroke="#222" textLength="19.6" lengthAdjust="spacingAndGlyphs" style="stroke-width:0.05px">N=12</text>
<text transform="translate(83.8,469.8) rotate(-45)" x="0" y="0" font-size="9.5" fill="#1a1a1a" stroke="#1a1a1a" text-anchor="end" textLength="27" lengthAdjust="spacingAndGlyphs">Resting</text>
<text transform="translate(109.9,469.8) rotate(-45)" x="0" y="0" font-size="9.5" fill="#1a1a1a" stroke="#1a1a1a" text-anchor="end" textLength="59" lengthAdjust="spacingAndGlyphs">ODN stimulated</text>
<text transform="translate(136.2,469.8) rotate(-45)" x="0" y="0" font-size="9.5" fill="#1a1a1a" stroke="#1a1a1a" text-anchor="end" textLength="66" lengthAdjust="spacingAndGlyphs">Plasma stimulated</text>
<text transform="translate(162.1,471) rotate(-45)" x="0" y="0" font-size="9.5" fill="#1a1a1a" stroke="#1a1a1a" text-anchor="end" textLength="25.5" lengthAdjust="spacingAndGlyphs">Plasma</text>
<text transform="translate(169.5,478.4) rotate(-45)" x="0" y="0" font-size="9.5" fill="#1a1a1a" stroke="#1a1a1a" text-anchor="end" textLength="44" lengthAdjust="spacingAndGlyphs">stimulated +</text>
<text transform="translate(176.7,485.6) rotate(-45)" x="0" y="0" font-size="9.5" fill="#1a1a1a" stroke="#1a1a1a" text-anchor="end" textLength="43" lengthAdjust="spacingAndGlyphs">ODN INH18</text>
<text transform="translate(263.5,420.5) rotate(-90)" x="0" y="0" font-size="9.5" fill="#1a1a1a" stroke="#1a1a1a" text-anchor="middle" textLength="80.5" lengthAdjust="spacingAndGlyphs" style="stroke-width:0.08px">Phospho-p65 NFkB MFI</text>
<line x1="293.1" y1="381.5" x2="293.1" y2="460.1" stroke="#1a1a1a" stroke-width="1.5" />
<line x1="290.1" y1="384.6" x2="293.1" y2="384.6" stroke="#1a1a1a" stroke-width="1.3" />
<text x="286.8" y="387.9" font-size="9.5" fill="#1a1a1a" stroke="#1a1a1a" text-anchor="end" textLength="18" lengthAdjust="spacingAndGlyphs">1200</text>
<line x1="290.1" y1="409.6" x2="293.1" y2="409.6" stroke="#1a1a1a" stroke-width="1.3" />
<text x="286.8" y="412.9" font-size="9.5" fill="#1a1a1a" stroke="#1a1a1a" text-anchor="end" textLength="13.5" lengthAdjust="spacingAndGlyphs">800</text>
<line x1="290.1" y1="434.7" x2="293.1" y2="434.7" stroke="#1a1a1a" stroke-width="1.3" />
<text x="286.8" y="438" font-size="9.5" fill="#1a1a1a" stroke="#1a1a1a" text-anchor="end" textLength="13.5" lengthAdjust="spacingAndGlyphs">400</text>
<line x1="290.1" y1="460" x2="293.1" y2="460" stroke="#1a1a1a" stroke-width="1.3" />
<text x="286.8" y="463.3" font-size="9.5" fill="#1a1a1a" stroke="#1a1a1a" text-anchor="end" textLength="4.5" lengthAdjust="spacingAndGlyphs">0</text>
<line x1="292.4" y1="460" x2="406.6" y2="460" stroke="#111" stroke-width="1.4" />
<line x1="310.6" y1="460" x2="310.6" y2="462.7" stroke="#1a1a1a" stroke-width="1" />
<line x1="336.8" y1="460" x2="336.8" y2="462.7" stroke="#1a1a1a" stroke-width="1" />
<line x1="362.7" y1="460" x2="362.7" y2="462.7" stroke="#1a1a1a" stroke-width="1" />
<line x1="389.4" y1="460" x2="389.4" y2="462.7" stroke="#1a1a1a" stroke-width="1" />
<rect x="301.4" y="432.3" width="18.4" height="27.2" fill="#f2c7c2"/>
<rect x="327.9" y="410.6" width="18.1" height="48.9" fill="#c1c6dc"/>
<rect x="354.2" y="421" width="17.7" height="38.5" fill="#d8e8f7"/>
<rect x="380.4" y="430.2" width="17.7" height="29.3" fill="#cec1d5"/>
<line x1="310.6" y1="428.3" x2="310.6" y2="435.1" stroke="#333" stroke-width="1.2" />
<line x1="306.1" y1="428.3" x2="315.1" y2="428.3" stroke="#333" stroke-width="1.2" />
<line x1="306.1" y1="435.1" x2="315.1" y2="435.1" stroke="#333" stroke-width="1.2" />
<line x1="336.8" y1="401.6" x2="336.8" y2="419.1" stroke="#333" stroke-width="1.2" />
<line x1="332.2" y1="401.6" x2="341.4" y2="401.6" stroke="#333" stroke-width="1.2" />
<line x1="332.2" y1="419.1" x2="341.4" y2="419.1" stroke="#333" stroke-width="1.2" />
<line x1="362.7" y1="409.9" x2="362.7" y2="431.2" stroke="#333" stroke-width="1.2" />
<line x1="358.1" y1="409.9" x2="367.3" y2="409.9" stroke="#333" stroke-width="1.2" />
<line x1="358.1" y1="431.2" x2="367.3" y2="431.2" stroke="#333" stroke-width="1.2" />
<line x1="389.4" y1="420" x2="389.4" y2="439" stroke="#333" stroke-width="1.2" />
<line x1="384.9" y1="420" x2="393.9" y2="420" stroke="#333" stroke-width="1.2" />
<line x1="384.9" y1="439" x2="393.9" y2="439" stroke="#333" stroke-width="1.2" />
<circle cx="308" cy="425.2" r="1.7" fill="#c8001c"/>
<circle cx="312.7" cy="425.6" r="1.7" fill="#c8001c"/>
<circle cx="304.9" cy="432.3" r="1.7" fill="#c8001c"/>
<circle cx="308" cy="431.6" r="1.7" fill="#c8001c"/>
<circle cx="310.6" cy="431.6" r="1.7" fill="#c8001c"/>
<circle cx="313.2" cy="431.6" r="1.7" fill="#c8001c"/>
<circle cx="316" cy="432.3" r="1.7" fill="#c8001c"/>
<circle cx="306.3" cy="434.4" r="1.7" fill="#c8001c"/>
<circle cx="309.2" cy="435.9" r="1.7" fill="#c8001c"/>
<circle cx="312.7" cy="434.4" r="1.7" fill="#c8001c"/>
<circle cx="334.4" cy="397.3" r="1.7" fill="#083f7e"/>
<circle cx="338.9" cy="397.3" r="1.7" fill="#083f7e"/>
<circle cx="330" cy="407.2" r="1.7" fill="#083f7e"/>
<circle cx="334.4" cy="409.4" r="1.7" fill="#083f7e"/>
<circle cx="338.9" cy="409.4" r="1.7" fill="#083f7e"/>
<circle cx="343.2" cy="407.2" r="1.7" fill="#083f7e"/>
<circle cx="330" cy="417.1" r="1.7" fill="#083f7e"/>
<circle cx="343.2" cy="417.1" r="1.7" fill="#083f7e"/>
<circle cx="334.4" cy="420.7" r="1.7" fill="#083f7e"/>
<circle cx="338.9" cy="420.7" r="1.7" fill="#083f7e"/>
<circle cx="362.7" cy="395.5" r="1.7" fill="#1f95dc"/>
<circle cx="362.7" cy="409.6" r="1.7" fill="#1f95dc"/>
<circle cx="362.7" cy="417.1" r="1.7" fill="#1f95dc"/>
<circle cx="356.1" cy="422.1" r="1.7" fill="#1f95dc"/>
<circle cx="360.3" cy="423.8" r="1.7" fill="#1f95dc"/>
<circle cx="365.5" cy="424.8" r="1.7" fill="#1f95dc"/>
<circle cx="369.8" cy="423.4" r="1.7" fill="#1f95dc"/>
<circle cx="358.5" cy="427.3" r="1.7" fill="#1f95dc"/>
<circle cx="362.7" cy="430.9" r="1.7" fill="#1f95dc"/>
<circle cx="367.4" cy="430.2" r="1.7" fill="#1f95dc"/>
<circle cx="389.4" cy="409.4" r="1.7" fill="#520f5e"/>
<circle cx="389.4" cy="416.7" r="1.7" fill="#520f5e"/>
<circle cx="389.4" cy="428.1" r="1.7" fill="#520f5e"/>
<circle cx="382.6" cy="431.6" r="1.7" fill="#520f5e"/>
<circle cx="386.1" cy="433" r="1.7" fill="#520f5e"/>
<circle cx="389.4" cy="434.7" r="1.7" fill="#520f5e"/>
<circle cx="392.5" cy="432.7" r="1.7" fill="#520f5e"/>
<circle cx="395.7" cy="430.9" r="1.7" fill="#520f5e"/>
<circle cx="391.5" cy="438.7" r="1.7" fill="#520f5e"/>
<circle cx="386.5" cy="441.5" r="1.7" fill="#520f5e"/>
<line x1="309.9" y1="377" x2="362.7" y2="377" stroke="#333" stroke-width="1.2" />
<line x1="309.9" y1="375" x2="309.9" y2="379" stroke="#333" stroke-width="1.2" />
<line x1="362.7" y1="375" x2="362.7" y2="379" stroke="#333" stroke-width="1.2" />
<line x1="311.3" y1="388.8" x2="336.8" y2="388.8" stroke="#333" stroke-width="1.2" />
<line x1="311.3" y1="386.8" x2="311.3" y2="390.8" stroke="#333" stroke-width="1.2" />
<line x1="336.8" y1="386.8" x2="336.8" y2="390.8" stroke="#333" stroke-width="1.2" />
<line x1="365.3" y1="386" x2="388" y2="386" stroke="#333" stroke-width="1.2" />
<line x1="365.3" y1="384" x2="365.3" y2="388" stroke="#333" stroke-width="1.2" />
<line x1="388" y1="384" x2="388" y2="388" stroke="#333" stroke-width="1.2" />
<path d="M334.75,371.95L334.75,374.45M333.67,372.57L335.83,373.82M333.67,373.82L335.83,372.57" stroke="#222" stroke-width="0.8" stroke-linecap="round"/>
<path d="M338.05,371.95L338.05,374.45M336.97,372.57L339.13,373.82M336.97,373.82L339.13,372.57" stroke="#222" stroke-width="0.8" stroke-linecap="round"/>
<path d="M319.25,383.55L319.25,386.05M318.17,384.18L320.33,385.43M318.17,385.43L320.33,384.18" stroke="#222" stroke-width="0.8" stroke-linecap="round"/>
<path d="M322.62,383.55L322.62,386.05M321.53,384.18L323.7,385.43M321.53,385.43L323.7,384.18" stroke="#222" stroke-width="0.8" stroke-linecap="round"/>
<path d="M325.98,383.55L325.98,386.05M324.9,384.18L327.07,385.43M324.9,385.43L327.07,384.18" stroke="#222" stroke-width="0.8" stroke-linecap="round"/>
<path d="M329.35,383.55L329.35,386.05M328.27,384.18L330.43,385.43M328.27,385.43L330.43,384.18" stroke="#222" stroke-width="0.8" stroke-linecap="round"/>
<path d="M374.95,380.65L374.95,383.15M373.87,381.27L376.03,382.52M373.87,382.52L376.03,381.27" stroke="#222" stroke-width="0.8" stroke-linecap="round"/>
<path d="M378.15,380.65L378.15,383.15M377.07,381.27L379.23,382.52M377.07,382.52L379.23,381.27" stroke="#222" stroke-width="0.8" stroke-linecap="round"/>
<path d="M418.95,409.55L418.95,412.05M417.87,410.18L420.03,411.43M417.87,411.43L420.03,410.18" stroke="#222" stroke-width="0.8" stroke-linecap="round"/>
<path d="M422.25,409.55L422.25,412.05M421.17,410.18L423.33,411.43M421.17,411.43L423.33,410.18" stroke="#222" stroke-width="0.8" stroke-linecap="round"/>
<text x="426" y="414.2" font-size="8.4" fill="#222" stroke="#222" textLength="24" lengthAdjust="spacingAndGlyphs" style="stroke-width:0.05px">P&lt;0.01</text>
<path d="M411.75,418.95L411.75,421.45M410.67,419.57L412.83,420.82M410.67,420.82L412.83,419.57" stroke="#222" stroke-width="0.8" stroke-linecap="round"/>
<path d="M415.22,418.95L415.22,421.45M414.13,419.57L416.3,420.82M414.13,420.82L416.3,419.57" stroke="#222" stroke-width="0.8" stroke-linecap="round"/>
<path d="M418.68,418.95L418.68,421.45M417.6,419.57L419.77,420.82M417.6,420.82L419.77,419.57" stroke="#222" stroke-width="0.8" stroke-linecap="round"/>
<path d="M422.15,418.95L422.15,421.45M421.07,419.57L423.23,420.82M421.07,420.82L423.23,419.57" stroke="#222" stroke-width="0.8" stroke-linecap="round"/>
<text x="425.7" y="423.4" font-size="8.4" fill="#222" stroke="#222" textLength="31.5" lengthAdjust="spacingAndGlyphs" style="stroke-width:0.05px">P&lt;0.0001</text>
<text x="424.1" y="432.3" font-size="8.4" fill="#222" stroke="#222" textLength="19.6" lengthAdjust="spacingAndGlyphs" style="stroke-width:0.05px">N=10</text>
<text transform="translate(313.8,469.8) rotate(-45)" x="0" y="0" font-size="9.5" fill="#1a1a1a" stroke="#1a1a1a" text-anchor="end" textLength="27" lengthAdjust="spacingAndGlyphs">Resting</text>
<text transform="translate(340,469.8) rotate(-45)" x="0" y="0" font-size="9.5" fill="#1a1a1a" stroke="#1a1a1a" text-anchor="end" textLength="59" lengthAdjust="spacingAndGlyphs">ODN stimulated</text>
<text transform="translate(365.9,469.8) rotate(-45)" x="0" y="0" font-size="9.5" fill="#1a1a1a" stroke="#1a1a1a" text-anchor="end" textLength="66" lengthAdjust="spacingAndGlyphs">Plasma stimulated</text>
<text transform="translate(392.2,471) rotate(-45)" x="0" y="0" font-size="9.5" fill="#1a1a1a" stroke="#1a1a1a" text-anchor="end" textLength="25.5" lengthAdjust="spacingAndGlyphs">Plasma</text>
<text transform="translate(399.6,478.4) rotate(-45)" x="0" y="0" font-size="9.5" fill="#1a1a1a" stroke="#1a1a1a" text-anchor="end" textLength="44" lengthAdjust="spacingAndGlyphs">stimulated +</text>
<text transform="translate(406.8,485.6) rotate(-45)" x="0" y="0" font-size="9.5" fill="#1a1a1a" stroke="#1a1a1a" text-anchor="end" textLength="43" lengthAdjust="spacingAndGlyphs">ODN INH18</text>
<text transform="translate(33.9,599.4) rotate(-90)" x="0" y="0" font-size="9.8" fill="#1a1a1a" stroke="#1a1a1a" text-anchor="middle" textLength="39.3" lengthAdjust="spacingAndGlyphs" style="stroke-width:0.08px">pSTAT5 MFI</text>
<line x1="63.2" y1="558.8" x2="63.2" y2="640.2" stroke="#1a1a1a" stroke-width="1.5" />
<line x1="60.2" y1="560.9" x2="63.2" y2="560.9" stroke="#1a1a1a" stroke-width="1.3" />
<text x="57" y="564.2" font-size="9.5" fill="#1a1a1a" stroke="#1a1a1a" text-anchor="end" textLength="18" lengthAdjust="spacingAndGlyphs">5000</text>
<line x1="60.2" y1="577" x2="63.2" y2="577" stroke="#1a1a1a" stroke-width="1.3" />
<text x="57" y="580.3" font-size="9.5" fill="#1a1a1a" stroke="#1a1a1a" text-anchor="end" textLength="18" lengthAdjust="spacingAndGlyphs">4000</text>
<line x1="60.2" y1="592.9" x2="63.2" y2="592.9" stroke="#1a1a1a" stroke-width="1.3" />
<text x="57" y="596.2" font-size="9.5" fill="#1a1a1a" stroke="#1a1a1a" text-anchor="end" textLength="18" lengthAdjust="spacingAndGlyphs">3000</text>
<line x1="60.2" y1="608.6" x2="63.2" y2="608.6" stroke="#1a1a1a" stroke-width="1.3" />
<text x="57" y="611.9" font-size="9.5" fill="#1a1a1a" stroke="#1a1a1a" text-anchor="end" textLength="18" lengthAdjust="spacingAndGlyphs">2000</text>
<line x1="60.2" y1="624.4" x2="63.2" y2="624.4" stroke="#1a1a1a" stroke-width="1.3" />
<text x="57" y="627.7" font-size="9.5" fill="#1a1a1a" stroke="#1a1a1a" text-anchor="end" textLength="18" lengthAdjust="spacingAndGlyphs">1000</text>
<line x1="60.2" y1="640.2" x2="63.2" y2="640.2" stroke="#1a1a1a" stroke-width="1.3" />
<text x="57" y="643.5" font-size="9.5" fill="#1a1a1a" stroke="#1a1a1a" text-anchor="end" textLength="4.5" lengthAdjust="spacingAndGlyphs">0</text>
<line x1="62.5" y1="640.2" x2="182" y2="640.2" stroke="#111" stroke-width="1.4" />
<line x1="81.3" y1="640.1" x2="81.3" y2="642.8" stroke="#1a1a1a" stroke-width="1" />
<line x1="109" y1="640.1" x2="109" y2="642.8" stroke="#1a1a1a" stroke-width="1" />
<line x1="136.2" y1="640.1" x2="136.2" y2="642.8" stroke="#1a1a1a" stroke-width="1" />
<line x1="163.6" y1="640.1" x2="163.6" y2="642.8" stroke="#1a1a1a" stroke-width="1" />
<rect x="72.1" y="602.2" width="18.5" height="37.4" fill="#f2c7c2"/>
<rect x="99.8" y="598" width="18.2" height="41.6" fill="#c1c6dc"/>
<rect x="127" y="602.1" width="18.5" height="37.5" fill="#d8e8f7"/>
<rect x="154.6" y="605.4" width="18.2" height="34.2" fill="#cec1d5"/>
<line x1="81.3" y1="583.8" x2="81.3" y2="619.6" stroke="#333" stroke-width="1.2" />
<line x1="76.7" y1="583.8" x2="85.9" y2="583.8" stroke="#333" stroke-width="1.2" />
<line x1="76.7" y1="619.6" x2="85.9" y2="619.6" stroke="#333" stroke-width="1.2" />
<line x1="109" y1="579.5" x2="109" y2="614.8" stroke="#333" stroke-width="1.2" />
<line x1="104.4" y1="579.5" x2="113.6" y2="579.5" stroke="#333" stroke-width="1.2" />
<line x1="104.4" y1="614.8" x2="113.6" y2="614.8" stroke="#333" stroke-width="1.2" />
<line x1="136.2" y1="580.2" x2="136.2" y2="623.1" stroke="#333" stroke-width="1.2" />
<line x1="131.7" y1="580.2" x2="140.7" y2="580.2" stroke="#333" stroke-width="1.2" />
<line x1="131.7" y1="623.1" x2="140.7" y2="623.1" stroke="#333" stroke-width="1.2" />
<line x1="163.6" y1="585" x2="163.6" y2="624.5" stroke="#333" stroke-width="1.2" />
<line x1="159.3" y1="585" x2="167.9" y2="585" stroke="#333" stroke-width="1.2" />
<line x1="159.3" y1="624.5" x2="167.9" y2="624.5" stroke="#333" stroke-width="1.2" />
<circle cx="79.4" cy="573.7" r="1.7" fill="#c8001c"/>
<circle cx="83.7" cy="573.7" r="1.7" fill="#c8001c"/>
<circle cx="79.4" cy="593.3" r="1.7" fill="#c8001c"/>
<circle cx="83.7" cy="593.3" r="1.7" fill="#c8001c"/>
<circle cx="79.4" cy="598.8" r="1.7" fill="#c8001c"/>
<circle cx="83.7" cy="598.8" r="1.7" fill="#c8001c"/>
<circle cx="74.7" cy="606.1" r="1.7" fill="#c8001c"/>
<circle cx="79" cy="606.1" r="1.7" fill="#c8001c"/>
<circle cx="83.7" cy="606.1" r="1.7" fill="#c8001c"/>
<circle cx="88" cy="606.1" r="1.7" fill="#c8001c"/>
<circle cx="79.4" cy="631.4" r="1.7" fill="#c8001c"/>
<circle cx="83.7" cy="631.4" r="1.7" fill="#c8001c"/>
<circle cx="105.9" cy="578.9" r="1.7" fill="#083f7e"/>
<circle cx="111.1" cy="578.9" r="1.7" fill="#083f7e"/>
<circle cx="101.5" cy="588.8" r="1.7" fill="#083f7e"/>
<circle cx="105.3" cy="590.2" r="1.7" fill="#083f7e"/>
<circle cx="109.3" cy="587.6" r="1.7" fill="#083f7e"/>
<circle cx="115.4" cy="590.2" r="1.7" fill="#083f7e"/>
<circle cx="108.1" cy="593.3" r="1.7" fill="#083f7e"/>
<circle cx="111.9" cy="593.3" r="1.7" fill="#083f7e"/>
<circle cx="105.9" cy="600.9" r="1.7" fill="#083f7e"/>
<circle cx="111.1" cy="600.9" r="1.7" fill="#083f7e"/>
<circle cx="105.9" cy="631.7" r="1.7" fill="#083f7e"/>
<circle cx="111.1" cy="631.7" r="1.7" fill="#083f7e"/>
<circle cx="136.2" cy="567.7" r="1.7" fill="#1f95dc"/>
<circle cx="131.3" cy="576.7" r="1.7" fill="#1f95dc"/>
<circle cx="136.2" cy="579.8" r="1.7" fill="#1f95dc"/>
<circle cx="141" cy="579.8" r="1.7" fill="#1f95dc"/>
<circle cx="131.3" cy="601.4" r="1.7" fill="#1f95dc"/>
<circle cx="136.2" cy="603.2" r="1.7" fill="#1f95dc"/>
<circle cx="141" cy="600.9" r="1.7" fill="#1f95dc"/>
<circle cx="136.2" cy="611.3" r="1.7" fill="#1f95dc"/>
<circle cx="133.6" cy="617" r="1.7" fill="#1f95dc"/>
<circle cx="138.7" cy="619.3" r="1.7" fill="#1f95dc"/>
<circle cx="133.6" cy="631.2" r="1.7" fill="#1f95dc"/>
<circle cx="138.7" cy="629.1" r="1.7" fill="#1f95dc"/>
<circle cx="158.9" cy="577.7" r="1.7" fill="#520f5e"/>
<circle cx="163.6" cy="579.5" r="1.7" fill="#520f5e"/>
<circle cx="168.5" cy="576.9" r="1.7" fill="#520f5e"/>
<circle cx="163.6" cy="589.7" r="1.7" fill="#520f5e"/>
<circle cx="163.6" cy="604.9" r="1.7" fill="#520f5e"/>
<circle cx="165.9" cy="606.1" r="1.7" fill="#520f5e"/>
<circle cx="161.2" cy="610.6" r="1.7" fill="#520f5e"/>
<circle cx="158.9" cy="614.1" r="1.7" fill="#520f5e"/>
<circle cx="168.5" cy="613" r="1.7" fill="#520f5e"/>
<circle cx="163.6" cy="616.2" r="1.7" fill="#520f5e"/>
<circle cx="161.2" cy="634.3" r="1.7" fill="#520f5e"/>
<circle cx="165.9" cy="632.1" r="1.7" fill="#520f5e"/>
<line x1="83.4" y1="548.8" x2="137" y2="548.8" stroke="#333" stroke-width="1.2" />
<line x1="83.4" y1="546.8" x2="83.4" y2="550.8" stroke="#333" stroke-width="1.2" />
<line x1="137" y1="546.8" x2="137" y2="550.8" stroke="#333" stroke-width="1.2" />
<line x1="88.6" y1="562" x2="118.3" y2="562" stroke="#333" stroke-width="1.2" />
<line x1="88.6" y1="560" x2="88.6" y2="564" stroke="#333" stroke-width="1.2" />
<line x1="118.3" y1="560" x2="118.3" y2="564" stroke="#333" stroke-width="1.2" />
<line x1="135.6" y1="562.8" x2="165.3" y2="562.8" stroke="#333" stroke-width="1.2" />
<line x1="135.6" y1="560.8" x2="135.6" y2="564.8" stroke="#333" stroke-width="1.2" />
<line x1="165.3" y1="560.8" x2="165.3" y2="564.8" stroke="#333" stroke-width="1.2" />
<text x="112.4" y="547.6" font-size="9" fill="#1a1a1a" stroke="#1a1a1a" text-anchor="middle" textLength="9.8" lengthAdjust="spacingAndGlyphs">NS</text>
<text x="103.8" y="559.4" font-size="9" fill="#1a1a1a" stroke="#1a1a1a" text-anchor="middle" textLength="9.8" lengthAdjust="spacingAndGlyphs">NS</text>
<text x="151.5" y="559.4" font-size="9" fill="#1a1a1a" stroke="#1a1a1a" text-anchor="middle" textLength="9.8" lengthAdjust="spacingAndGlyphs">NS</text>
<text x="195" y="602" font-size="8.2" fill="#222" stroke="#222" text-anchor="middle">N=12</text>
<text transform="translate(84.9,650) rotate(-45)" x="0" y="0" font-size="9.5" fill="#1a1a1a" stroke="#1a1a1a" text-anchor="end" textLength="27" lengthAdjust="spacingAndGlyphs">Resting</text>
<text transform="translate(112.6,650) rotate(-45)" x="0" y="0" font-size="9.5" fill="#1a1a1a" stroke="#1a1a1a" text-anchor="end" textLength="59" lengthAdjust="spacingAndGlyphs">ODN stimulated</text>
<text transform="translate(139.8,650) rotate(-45)" x="0" y="0" font-size="9.5" fill="#1a1a1a" stroke="#1a1a1a" text-anchor="end" textLength="66" lengthAdjust="spacingAndGlyphs">Plasma stimulated</text>
<text transform="translate(166.8,651.2) rotate(-45)" x="0" y="0" font-size="9.5" fill="#1a1a1a" stroke="#1a1a1a" text-anchor="end" textLength="25.5" lengthAdjust="spacingAndGlyphs">Plasma</text>
<text transform="translate(174.2,658.6) rotate(-45)" x="0" y="0" font-size="9.5" fill="#1a1a1a" stroke="#1a1a1a" text-anchor="end" textLength="44" lengthAdjust="spacingAndGlyphs">stimulated +</text>
<text transform="translate(181.4,665.8) rotate(-45)" x="0" y="0" font-size="9.5" fill="#1a1a1a" stroke="#1a1a1a" text-anchor="end" textLength="43" lengthAdjust="spacingAndGlyphs">ODN INH18</text>
<text transform="translate(271,599) rotate(-90)" x="0" y="0" font-size="10" fill="#1a1a1a" stroke="#1a1a1a" text-anchor="middle" textLength="75.5" lengthAdjust="spacingAndGlyphs" style="stroke-width:0.08px">Migration fold change</text>
<line x1="293.1" y1="558.5" x2="293.1" y2="575.4" stroke="#1a1a1a" stroke-width="1.5" />
<line x1="290" y1="575.4" x2="296.3" y2="575.4" stroke="#1a1a1a" stroke-width="1.4" />
<line x1="290.3" y1="561.2" x2="293" y2="561.2" stroke="#1a1a1a" stroke-width="1" />
<line x1="290.3" y1="567.2" x2="293" y2="567.2" stroke="#1a1a1a" stroke-width="1" />
<line x1="290.3" y1="573" x2="293" y2="573" stroke="#1a1a1a" stroke-width="1" />
<text x="287.5" y="563.6" font-size="7.5" fill="#1a1a1a" stroke="#1a1a1a" text-anchor="end">5</text>
<text x="287.5" y="569.6" font-size="7.5" fill="#1a1a1a" stroke="#1a1a1a" text-anchor="end">4</text>
<text x="287.5" y="575.6" font-size="7.5" fill="#1a1a1a" stroke="#1a1a1a" text-anchor="end">3</text>
<line x1="293.1" y1="582.6" x2="293.1" y2="640.3" stroke="#1a1a1a" stroke-width="1.5" />
<line x1="290" y1="582.6" x2="296.3" y2="582.6" stroke="#1a1a1a" stroke-width="1.4" />
<line x1="290.2" y1="582.7" x2="293" y2="582.7" stroke="#1a1a1a" stroke-width="1" />
<text x="287.2" y="585.6" font-size="8.5" fill="#1a1a1a" stroke="#1a1a1a" text-anchor="end" textLength="11" lengthAdjust="spacingAndGlyphs">2.5</text>
<line x1="290.2" y1="594.2" x2="293" y2="594.2" stroke="#1a1a1a" stroke-width="1" />
<text x="287.2" y="597.1" font-size="8.5" fill="#1a1a1a" stroke="#1a1a1a" text-anchor="end" textLength="11" lengthAdjust="spacingAndGlyphs">2.0</text>
<line x1="290.2" y1="605.8" x2="293" y2="605.8" stroke="#1a1a1a" stroke-width="1" />
<text x="287.2" y="608.7" font-size="8.5" fill="#1a1a1a" stroke="#1a1a1a" text-anchor="end" textLength="11" lengthAdjust="spacingAndGlyphs">1.5</text>
<line x1="290.2" y1="617.3" x2="293" y2="617.3" stroke="#1a1a1a" stroke-width="1" />
<text x="287.2" y="620.2" font-size="8.5" fill="#1a1a1a" stroke="#1a1a1a" text-anchor="end" textLength="11" lengthAdjust="spacingAndGlyphs">1.0</text>
<line x1="290.2" y1="628.8" x2="293" y2="628.8" stroke="#1a1a1a" stroke-width="1" />
<text x="287.2" y="631.7" font-size="8.5" fill="#1a1a1a" stroke="#1a1a1a" text-anchor="end" textLength="11" lengthAdjust="spacingAndGlyphs">0.5</text>
<line x1="290.2" y1="640.3" x2="293" y2="640.3" stroke="#1a1a1a" stroke-width="1" />
<text x="287.2" y="643.2" font-size="8.5" fill="#1a1a1a" stroke="#1a1a1a" text-anchor="end" textLength="11" lengthAdjust="spacingAndGlyphs">0.0</text>
<line x1="292.4" y1="640.2" x2="407.5" y2="640.2" stroke="#111" stroke-width="1.4" />
<line x1="326" y1="640.2" x2="326" y2="642.9" stroke="#1a1a1a" stroke-width="1" />
<line x1="375.4" y1="640.2" x2="375.4" y2="642.9" stroke="#1a1a1a" stroke-width="1" />
<rect x="309.6" y="616.5" width="33.1" height="23.2" fill="#f2c7c2"/>
<rect x="309.6" y="615.4" width="33.1" height="3.4" rx="1.6" fill="#b5001f"/>
<rect x="359" y="599.2" width="33.3" height="40.5" fill="#d8e8f7"/>
<line x1="375.4" y1="597.3" x2="375.4" y2="603.1" stroke="#222" stroke-width="1.2" />
<line x1="366.8" y1="597.3" x2="384" y2="597.3" stroke="#222" stroke-width="1.2" />
<line x1="366.8" y1="603.1" x2="384" y2="603.1" stroke="#222" stroke-width="1.2" />
<circle cx="375.4" cy="564.6" r="1.75" fill="#1f95dc"/>
<circle cx="375.4" cy="582.3" r="1.75" fill="#1f95dc"/>
<circle cx="370.6" cy="591.9" r="1.75" fill="#1f95dc"/>
<circle cx="375.4" cy="593.8" r="1.75" fill="#1f95dc"/>
<circle cx="380.2" cy="591.2" r="1.75" fill="#1f95dc"/>
<circle cx="361.2" cy="599.6" r="1.75" fill="#1f95dc"/>
<circle cx="365.4" cy="601.5" r="1.75" fill="#1f95dc"/>
<circle cx="370.2" cy="603.5" r="1.75" fill="#1f95dc"/>
<circle cx="375.4" cy="603.1" r="1.75" fill="#1f95dc"/>
<circle cx="380.8" cy="603.5" r="1.75" fill="#1f95dc"/>
<circle cx="385.2" cy="601.5" r="1.75" fill="#1f95dc"/>
<circle cx="389.4" cy="599.6" r="1.75" fill="#1f95dc"/>
<circle cx="361.2" cy="606.5" r="1.75" fill="#1f95dc"/>
<circle cx="366" cy="607.3" r="1.75" fill="#1f95dc"/>
<circle cx="370.6" cy="608.8" r="1.75" fill="#1f95dc"/>
<circle cx="375.4" cy="608.8" r="1.75" fill="#1f95dc"/>
<circle cx="380.4" cy="607.3" r="1.75" fill="#1f95dc"/>
<circle cx="384.6" cy="606.5" r="1.75" fill="#1f95dc"/>
<circle cx="388.8" cy="606" r="1.75" fill="#1f95dc"/>
<circle cx="368.7" cy="611.7" r="1.75" fill="#1f95dc"/>
<circle cx="373.1" cy="612.7" r="1.75" fill="#1f95dc"/>
<circle cx="377.9" cy="611.7" r="1.75" fill="#1f95dc"/>
<circle cx="382.3" cy="610.8" r="1.75" fill="#1f95dc"/>
<circle cx="373.1" cy="615" r="1.75" fill="#1f95dc"/>
<text x="352" y="543.8" font-size="9" fill="#1a1a1a" stroke="#1a1a1a" text-anchor="middle" textLength="36" lengthAdjust="spacingAndGlyphs">P &lt; 0.0001</text>
<text x="352.3" y="552.7" font-size="9" fill="#1a1a1a" stroke="#1a1a1a" text-anchor="middle" textLength="22.5" lengthAdjust="spacingAndGlyphs">N = 24</text>
<line x1="328.5" y1="558.5" x2="376.3" y2="558.5" stroke="#333" stroke-width="1.2" />
<line x1="328.5" y1="556.5" x2="328.5" y2="560.5" stroke="#333" stroke-width="1.2" />
<line x1="376.3" y1="556.5" x2="376.3" y2="560.5" stroke="#333" stroke-width="1.2" />
<text transform="translate(329.5,650.8) rotate(-45)" x="0" y="0" font-size="8.8" fill="#1a1a1a" stroke="#1a1a1a" text-anchor="end" textLength="26.5" lengthAdjust="spacingAndGlyphs">Resting</text>
<text transform="translate(377.9,650.2) rotate(-45)" x="0" y="0" font-size="8.8" fill="#1a1a1a" stroke="#1a1a1a" text-anchor="end" textLength="58" lengthAdjust="spacingAndGlyphs">ODN stimulated</text>
<rect x="0" y="0" width="1.3" height="705" fill="#000"/><rect x="0" y="0" width="520" height="1.1" fill="#000"/><rect x="518.9" y="0" width="1.1" height="705" fill="#000"/><rect x="0" y="703.4" width="520" height="1.6" fill="#000"/>
</svg></body></html>
